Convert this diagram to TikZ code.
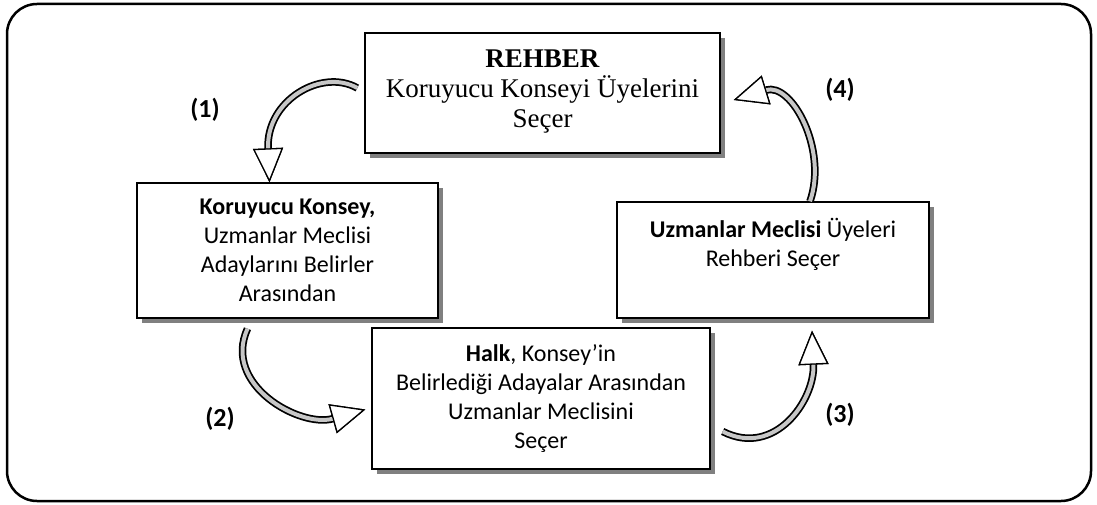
\documentclass[tikz,border=0pt]{standalone}
\usepackage{fontspec}
\setmainfont{Carlito}
\newfontfamily\timesfont{Liberation Serif}
\usetikzlibrary{arrows.meta, shadows}
\tikzset{
  box/.style={
	draw, line width=1.4pt, fill=white, align=center, inner sep=0pt,
	font=\fontsize{24}{29}\selectfont, % body text of the boxes
	drop shadow={shadow xshift=5pt, shadow yshift=-5pt, fill=black!50, opacity=1},
  },
  curvearrow/.style={
	line width=4pt, draw=black!22, % grey band
	preaction={draw=black, line width=7.5pt}, % black outline of the band
	-{Triangle[fill=white, color=black, length=34pt, width=30pt, line width=1.3pt]},
  },
  num/.style={font=\fontsize{26}{30}\selectfont\bfseries},
}

\begin{document}
\begin{tikzpicture}[x=1pt, y=-1pt]
\useasboundingbox (0,0) rectangle (1097,505);
\draw[line width=2.5pt, rounded corners=30pt] (7,4) rectangle (1091,501);

\node[box, minimum width=355pt, minimum height=120pt, font=\timesfont\fontsize{27}{30}\selectfont] (rehber) at (542.5,93) {\mbox{}\\[-16pt]\textbf{REHBER}\\Koruyucu Konseyi Üyelerini\\Seçer};
\node[box, minimum width=301pt, minimum height=135pt] (konsey) at (287.5,250.5) {\textbf{Koruyucu Konsey,}\\Uzmanlar Meclisi\\Adaylarını Belirler\\Arasından};
\node[box, minimum width=338pt, minimum height=141pt] (halk) at (541,398.5) {\textbf{Halk}, Konsey’in\\Belirlediği Adayalar Arasından\\Uzmanlar Meclisini\\Seçer};
\node[box, minimum width=312pt, minimum height=116pt] (meclis) at (773,260) {\textbf{Uzmanlar Meclisi} Üyeleri\\Rehberi Seçer\\[6pt]\mbox{}};

\draw[curvearrow] ([xshift=-7pt, yshift=5pt]rehber.west) .. controls (322,68) and (266,100) .. ([xshift=-18pt]konsey.north);
\draw[curvearrow] ([xshift=-40pt, yshift=-10pt]konsey.south) .. controls (222,385) and (300,428) .. ([xshift=-6pt, yshift=-11pt]halk.west);
\draw[curvearrow] ([xshift=12pt, yshift=-33pt]halk.east) .. controls (775,458) and (815,400) .. ([xshift=39pt, yshift=-12pt]meclis.south);
\draw[curvearrow] ([xshift=37pt]meclis.north) .. controls (828,150) and (792,82) .. ([xshift=13pt, yshift=-7pt]rehber.east);

\node[num] (n1) at (205,110) {(1)};
\node[num] (n2) at (220,419) {(2)};
\node[num] (n3) at (840,415) {(3)};
\node[num] (n4) at (840,90) {(4)};
\end{tikzpicture}
\end{document}
